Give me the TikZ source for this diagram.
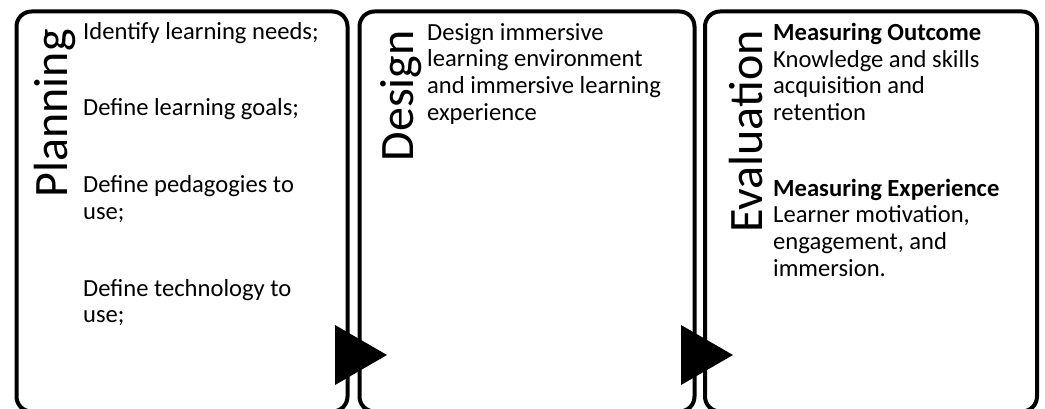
\documentclass[tikz,border=0pt]{standalone}
\usepackage{fontspec}
\setmainfont{Carlito}
\usetikzlibrary{positioning}

\begin{document}
\begin{tikzpicture}[x=1pt,y=-1pt,
  stage box/.style={draw=black,line width=4pt,rounded corners=15pt,inner sep=0pt,minimum height=400pt},
  stage label/.style={rotate=90,anchor=base east,inner sep=0pt,font=\fontsize{48}{52}\selectfont},
  stage text/.style={anchor=north west,align=left,inner sep=0pt,font=\fontsize{24.6}{26.7}\selectfont}]
\tikzstyle{arrow head} = [fill=black]

\useasboundingbox (0,0) rectangle (1045,409);
\clip (0,0) rectangle (1045,409);

% Stages
\node[stage box,minimum width=331pt] (planning) at (182,211.5) {};
\node[stage box,minimum width=335pt] (design) at (527,211.5) {};
\node[stage box,minimum width=332pt] (evaluation) at (871,211.5) {};

\node[stage label] (planninglabel) at (67,29) {Planning};
\node[stage label] (designlabel) at (413,30) {Design};
\node[stage label] (evaluationlabel) at (762,30) {Evaluation};

\node[stage text] (planningtext) at (83,22) {Identify learning needs;\\[50pt]
Define learning goals;\\[50pt]
Define pedagogies to\\ use;\\[50pt]
Define technology to\\ use;};

\node[stage text] (designtext) at (427,23) {Design immersive\\
learning environment\\
and immersive learning\\
experience};

\node[stage text] (evaluationtext) at (773,23) {\textbf{Measuring Outcome}\\
Knowledge and skills\\
acquisition and\\
retention\\[49pt]
\textbf{Measuring Experience}\\
Learner motivation,\\
engagement, and\\
immersion.};

% Arrows
\coordinate (tip1) at (387,355);
\coordinate (tip2) at (733,355);
\fill[arrow head] (tip1) -- ++(-52,-30) -- ++(0,60) -- cycle;
\fill[arrow head] (tip2) -- ++(-52,-30) -- ++(0,60) -- cycle;

\end{tikzpicture}
\end{document}
